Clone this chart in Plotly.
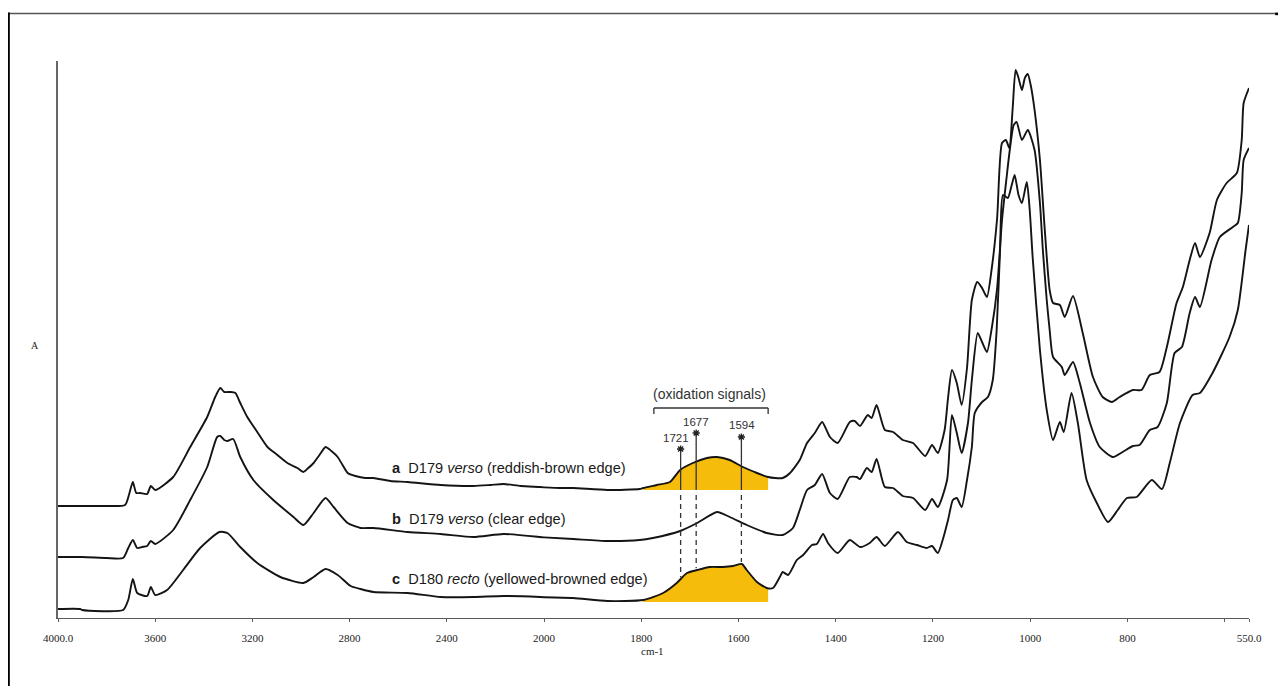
import numpy as np
import plotly.graph_objects as go

# ---------------- data (wavenumber cm-1, absorbance in arbitrary units) ----------------
WN_A = [4000, 3900, 3800, 3724, 3707, 3692, 3678, 3662, 3633, 3618, 3600, 3526, 3456, 3386, 3353, 3332,
        3316, 3291, 3270, 3250, 3221, 3180, 3138, 3097, 3056, 3015, 2990, 2970, 2948, 2924, 2899, 2875,
        2849, 2829, 2808, 2776, 2735, 2702, 2632, 2561, 2425, 2290, 2220, 2166, 2096, 2016, 1967, 1940,
        1870, 1803, 1796, 1768, 1741, 1720, 1694, 1665, 1644, 1618, 1591, 1562, 1539, 1525, 1509, 1494,
        1474, 1459, 1443, 1428, 1412, 1396, 1371, 1361, 1350, 1334, 1326, 1316, 1299, 1282, 1262, 1241,
        1216, 1202, 1190, 1176, 1169, 1161, 1151, 1141, 1130, 1120, 1109, 1099, 1089, 1079, 1068, 1058,
        1050, 1043, 1036, 1030, 1024, 1017, 1011, 1005, 999, 991, 980, 970, 960, 953, 939, 929,
        912, 892, 871, 851, 832, 816, 789, 771, 754, 734, 719, 699, 686, 672, 661, 651,
        631, 616, 596, 575, 565, 561, 550]
ABS_A = [112, 112, 112, 113, 124, 136, 125, 125, 124, 132, 128, 141, 171, 201, 221, 230,
         226, 226, 225, 215, 201, 186, 171, 163, 155, 150, 146, 150, 155, 163, 171, 167,
         161, 153, 145, 142, 140, 140, 137, 136, 133, 132, 133, 134, 132, 131, 130, 130,
         128, 129, 130, 133, 136, 148, 155, 160, 161, 158, 151, 145, 141, 140, 140, 145,
         158, 175, 185, 196, 181, 175, 196, 197, 192, 203, 200, 213, 188, 186, 178, 175,
         162, 173, 165, 188, 220, 248, 235, 213, 250, 318, 336, 330, 321, 350, 400, 475,
         478, 470, 510, 548, 540, 528, 540, 544, 533, 508, 458, 388, 328, 315, 313, 301,
         322, 285, 241, 221, 216, 221, 228, 228, 243, 246, 271, 315, 331, 358, 375, 361,
         385, 418, 435, 445, 478, 515, 530]

WN_B = [4000, 3900, 3800, 3732, 3711, 3692, 3674, 3654, 3633, 3618, 3600, 3526, 3456, 3386, 3345, 3332,
        3316, 3303, 3279, 3250, 3196, 3114, 3031, 2990, 2948, 2899, 2866, 2808, 2755, 2702, 2561, 2425,
        2290, 2166, 2016, 1940, 1870, 1803, 1776, 1720, 1685, 1644, 1618, 1583, 1542, 1509, 1488, 1474,
        1459, 1443, 1428, 1412, 1396, 1371, 1357, 1350, 1336, 1326, 1316, 1299, 1282, 1262, 1241, 1216,
        1202, 1190, 1171, 1161, 1151, 1141, 1128, 1120, 1108, 1099, 1089, 1079, 1068, 1058, 1048, 1042,
        1034, 1028, 1017, 1005, 991, 980, 974, 966, 960, 953, 935, 929, 912, 898, 877, 857,
        830, 810, 789, 775, 754, 738, 719, 703, 688, 672, 661, 651, 627, 610, 583, 573,
        565, 561, 550]
ABS_B = [61, 61, 60, 60, 70, 78, 70, 71, 72, 77, 74, 88, 118, 151, 181, 182,
         178, 177, 179, 161, 138, 118, 101, 93, 105, 120, 111, 95, 90, 90, 86, 84,
         81, 84, 81, 79, 77, 78, 80, 87, 95, 106, 101, 93, 85, 83, 90, 108,
         128, 133, 144, 125, 119, 141, 141, 139, 150, 146, 159, 131, 130, 122, 120, 108,
         119, 111, 138, 203, 185, 165, 195, 238, 285, 276, 266, 290, 330, 398, 443, 468,
         493, 496, 478, 488, 468, 415, 368, 318, 288, 261, 251, 243, 256, 235, 195, 171,
         161, 166, 172, 173, 188, 191, 215, 265, 271, 305, 321, 311, 358, 381, 391, 395,
         425, 458, 470]

WN_C = [4000, 3909, 3900, 3732, 3711, 3692, 3674, 3633, 3618, 3600, 3551, 3485, 3415, 3336, 3303, 3250,
        3180, 3085, 2990, 2948, 2899, 2849, 2796, 2755, 2702, 2561, 2425, 2290, 2166, 2016, 1940, 1870,
        1796, 1755, 1727, 1706, 1685, 1659, 1632, 1611, 1593, 1583, 1562, 1542, 1529, 1515, 1509, 1498,
        1480, 1467, 1449, 1439, 1426, 1416, 1396, 1371, 1350, 1330, 1316, 1299, 1272, 1254, 1233, 1213,
        1202, 1190, 1180, 1169, 1159, 1151, 1141, 1130, 1120, 1114, 1099, 1087, 1077, 1069, 1062, 1056,
        1046, 1038, 1032, 1024, 1017, 1007, 1001, 995, 980, 966, 953, 939, 931, 915, 902, 884,
        863, 840, 820, 801, 781, 750, 729, 713, 692, 666, 651, 625, 590, 573, 557, 550]
ABS_C = [9, 9, 8, 8, 18, 39, 25, 22, 31, 23, 28, 48, 70, 86, 85, 71,
         55, 41, 35, 41, 49, 43, 32, 29, 26, 25, 21, 21, 22, 21, 20, 17,
         18, 25, 35, 45, 48, 51, 51, 52, 54, 48, 36, 30, 30, 41, 46, 43,
         58, 63, 73, 74, 84, 75, 65, 78, 71, 75, 81, 72, 86, 76, 73, 70,
         72, 65, 78, 98, 118, 120, 111, 138, 171, 205, 216, 221, 238, 288, 368, 423,
         420, 433, 443, 423, 415, 436, 408, 361, 268, 208, 178, 196, 186, 225, 195, 138,
         115, 96, 108, 120, 121, 138, 129, 155, 195, 223, 225, 245, 281, 308, 368, 393]

SERIES_LABELS = ["a", "b", "c"]
SERIES_SAMPLE = ["D179", "D179", "D180"]
SERIES_SIDE = ["verso", "verso", "recto"]
SERIES_NOTE = ["(reddish-brown edge)", "(clear edge)", "(yellowed-browned edge)"]

OX_BAND = [1796, 1539]            # highlighted oxidation band (cm-1)
OX_PEAKS = ["1721", "1677", "1594"]
OX_PEAK_WN = [1719, 1687, 1594]   # positions of the marker lines as drawn

TICKS_HI = [4000, 3600, 3200, 2800, 2400]
TICKTEXT_HI = ["4000.0", "3600", "3200", "2800", "2400"]
TICKS_LO = [2000, 1800, 1600, 1400, 1200, 1000, 800, 600, 550]
TICKTEXT_LO = ["2000", "1800", "1600", "1400", "1200", "1000", "800", "", "550.0"]

SPLIT = 2000
# -------------------------------------------------------------------------------------

LINE_COL = "#141414"
FILL_COL = "#F6BC0C"
AX_COL = "#5a5a5a"

def interp(wn, ab, x):
    wn = np.asarray(wn, float)
    ab = np.asarray(ab, float)
    return float(np.interp(x, wn[::-1], ab[::-1]))

def split(wn, ab):
    wn = np.asarray(wn, float)
    ab = np.asarray(ab, float)
    v = interp(wn, ab, SPLIT)
    hi = wn > SPLIT
    lo = wn < SPLIT
    return (np.r_[wn[hi], SPLIT], np.r_[ab[hi], v],
            np.r_[SPLIT, wn[lo]], np.r_[v, ab[lo]])

def band(wn, ab, hi, lo, base):
    wn = np.asarray(wn, float)
    ab = np.asarray(ab, float)
    m = (wn < hi) & (wn > lo)
    xs = np.r_[hi, wn[m], lo, lo, hi]
    ys = np.r_[interp(wn, ab, hi), ab[m], interp(wn, ab, lo), base, base]
    return xs, ys

fig = go.Figure()

# yellow oxidation bands under spectra a and c
for wn, ab in [(WN_A, ABS_A), (WN_C, ABS_C)]:
    base = interp(wn, ab, OX_BAND[0]) - 2
    xs, ys = band(wn, ab, OX_BAND[0], OX_BAND[1], base)
    fig.add_trace(go.Scatter(x=xs, y=ys, xaxis="x2", yaxis="y", mode="lines",
                             fill="toself", fillcolor=FILL_COL, line=dict(width=0),
                             hoverinfo="skip"))

for wn, ab in [(WN_A, ABS_A), (WN_B, ABS_B), (WN_C, ABS_C)]:
    x1, y1, x2, y2 = split(wn, ab)
    fig.add_trace(go.Scatter(x=x1, y=y1, xaxis="x", yaxis="y", mode="lines",
                             line=dict(color=LINE_COL, width=1.9, shape="spline", smoothing=0.6)))
    fig.add_trace(go.Scatter(x=x2, y=y2, xaxis="x2", yaxis="y", mode="lines",
                             line=dict(color=LINE_COL, width=1.9, shape="spline", smoothing=0.6)))

# oxidation marker lines
base_a = interp(WN_A, ABS_A, OX_BAND[0]) - 2
star_h = [169, 185, 181]
label_h = [180, 196, 193]
label_dx = [10, 0, -1]
shapes = []
for k, w in enumerate(OX_PEAK_WN):
    shapes.append(dict(type="line", xref="x2", yref="y", x0=w, x1=w, y0=star_h[k] - 2, y1=base_a,
                       line=dict(color="#333", width=1.3)))
    shapes.append(dict(type="line", xref="x2", yref="y", x0=w, x1=w, y0=base_a - 5,
                       y1=interp(WN_C, ABS_C, w) + 2,
                       line=dict(color="#333", width=1.3, dash="5px,4px")))
fig.add_trace(go.Scatter(x=OX_PEAK_WN, y=star_h, xaxis="x2", yaxis="y", mode="markers",
                         marker=dict(symbol="asterisk-open", size=6, color="#222",
                                     line=dict(width=1.3, color="#222"))))

# bracket over band
br_y = 210
shapes += [
    dict(type="line", xref="x2", yref="y", x0=1774, x1=1539, y0=br_y, y1=br_y, line=dict(color="#333", width=1.3)),
    dict(type="line", xref="x2", yref="y", x0=1774, x1=1774, y0=br_y, y1=br_y - 6, line=dict(color="#333", width=1.3)),
    dict(type="line", xref="x2", yref="y", x0=1539, x1=1539, y0=br_y, y1=br_y - 6, line=dict(color="#333", width=1.3)),
]

# page frame lines
shapes += [
    dict(type="line", xref="paper", yref="paper", x0=-0.0424, x1=1.032, y0=1.0855, y1=1.0855,
         line=dict(color="#555", width=1.5)),
    dict(type="line", xref="paper", yref="paper", x0=-0.0415, x1=-0.0415, y0=1.087, y1=-0.125,
         line=dict(color="#000", width=2.5)),
    dict(type="line", xref="paper", yref="paper", x0=1.022, x1=1.032, y0=1.0845, y1=1.0845,
         line=dict(color="#000", width=2.5)),
]

annotations = []
label_h_series = [150, 99, 39]
for k in range(3):
    txt = ("<b>%s</b>\u00a0\u00a0%s <i>%s</i> %s"
           % (SERIES_LABELS[k], SERIES_SAMPLE[k], SERIES_SIDE[k], SERIES_NOTE[k]))
    annotations.append(dict(x=2633, y=label_h_series[k], xref="x", yref="y", text=txt,
                            showarrow=False, xanchor="left", yanchor="middle",
                            font=dict(family="Liberation Sans, Arial", size=14.6, color="#1a1a1a")))
for k, lab in enumerate(OX_PEAKS):
    annotations.append(dict(x=OX_PEAK_WN[k] + label_dx[k], y=label_h[k], xref="x2", yref="y", text=lab,
                            showarrow=False, xanchor="center", yanchor="middle",
                            font=dict(family="Liberation Sans, Arial", size=11.5, color="#333")))
annotations.append(dict(x=1659, y=224, xref="x2", yref="y", text="(oxidation signals)",
                        showarrow=False, xanchor="center", yanchor="middle",
                        font=dict(family="Liberation Sans, Arial", size=14, color="#333")))
annotations.append(dict(x=1776, y=-0.059, xref="x2", yref="paper", text="cm-1",
                        showarrow=False, xanchor="center", yanchor="middle",
                        font=dict(family="Liberation Serif, Times New Roman", size=11, color="#222")))
annotations.append(dict(x=-0.0193, y=0.49, xref="paper", yref="paper", text="A",
                        showarrow=False, xanchor="center", yanchor="middle",
                        font=dict(family="Liberation Serif, Times New Roman", size=10, color="#222")))

D = 486 / 1191
common_x = dict(showgrid=False, zeroline=False, showline=True, linecolor=AX_COL, linewidth=1.3,
                ticks="outside", ticklen=3, tickwidth=1, tickcolor=AX_COL, ticklabelstandoff=7,
                tickfont=dict(family="Liberation Serif, Times New Roman", size=11, color="#222"),
                anchor="y", fixedrange=True)

fig.update_layout(
    width=1286, height=686,
    margin=dict(l=50, r=45, t=53, b=76),
    paper_bgcolor="white", plot_bgcolor="white",
    showlegend=False,
    xaxis=dict(domain=[0, D], range=[4000, 2000], tickmode="array", tickvals=TICKS_HI,
               ticktext=TICKTEXT_HI, **common_x),
    xaxis2=dict(domain=[D, 1], range=[2000, 550], tickmode="array", tickvals=TICKS_LO,
                ticktext=TICKTEXT_LO, **common_x),
    yaxis=dict(range=[0, 557], showline=True, linecolor="#666", linewidth=1.5, showticklabels=False,
               ticks="", showgrid=False, zeroline=False, fixedrange=True),
    shapes=shapes,
    annotations=annotations,
)

fig.write_html("out.html")
